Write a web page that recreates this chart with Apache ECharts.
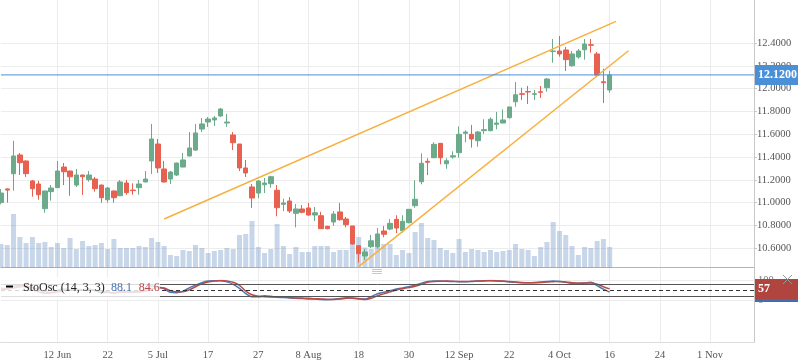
<!DOCTYPE html>
<html><head><meta charset="utf-8">
<script src="https://cdn.jsdelivr.net/npm/echarts@6/dist/echarts.min.js"></script>
<style>html,body{margin:0;padding:0;background:#fff}#c{width:798px;height:363px}</style>
</head><body><div id="c"></div>
<script>
const dates = [
'2017-05-30','2017-05-31','2017-06-01','2017-06-02','2017-06-05','2017-06-06','2017-06-07','2017-06-08','2017-06-09','2017-06-12',
'2017-06-13','2017-06-14','2017-06-15','2017-06-16','2017-06-19','2017-06-20','2017-06-21','2017-06-22','2017-06-23','2017-06-26',
'2017-06-27','2017-06-28','2017-06-29','2017-06-30','2017-07-03','2017-07-05','2017-07-06','2017-07-07','2017-07-10','2017-07-11',
'2017-07-12','2017-07-13','2017-07-14','2017-07-17','2017-07-18','2017-07-19','2017-07-20','2017-07-21','2017-07-24','2017-07-25',
'2017-07-26','2017-07-27','2017-07-28','2017-07-31','2017-08-01','2017-08-02','2017-08-03','2017-08-04','2017-08-07','2017-08-08',
'2017-08-09','2017-08-10','2017-08-11','2017-08-14','2017-08-15','2017-08-16','2017-08-17','2017-08-18','2017-08-21','2017-08-22',
'2017-08-23','2017-08-24','2017-08-25','2017-08-28','2017-08-29','2017-08-30','2017-08-31','2017-09-01','2017-09-05','2017-09-06',
'2017-09-07','2017-09-08','2017-09-11','2017-09-12','2017-09-13','2017-09-14','2017-09-15','2017-09-18','2017-09-19','2017-09-20',
'2017-09-21','2017-09-22','2017-09-25','2017-09-26','2017-09-27','2017-09-28','2017-09-29','2017-10-02','2017-10-03','2017-10-04',
'2017-10-05','2017-10-06','2017-10-09','2017-10-10','2017-10-11','2017-10-12','2017-10-13','2017-10-16','2017-10-17','2017-10-18',
'2017-10-19','2017-10-20','2017-10-21','2017-10-22','2017-10-23','2017-10-24','2017-10-25','2017-10-26','2017-10-27','2017-10-28',
'2017-10-29','2017-10-30','2017-10-31','2017-11-01','2017-11-02','2017-11-03','2017-11-04','2017-11-05','2017-11-06','2017-11-07',
'2017-11-08'];
const opens = [11.000,11.120,11.253,11.418,11.365,11.190,11.163,10.947,11.096,11.131,
11.312,11.277,11.154,11.242,11.201,11.207,11.154,11.025,11.102,11.060,
11.172,11.110,11.131,11.181,11.365,11.514,11.295,11.207,11.242,11.312,
11.409,11.461,11.645,11.707,11.725,11.760,11.698,11.593,11.514,11.304,
11.137,11.084,11.157,11.166,11.108,10.985,11.014,10.906,10.944,10.953,
10.891,10.885,10.792,10.830,10.918,10.856,10.795,10.622,10.532,10.613,
10.613,10.751,10.768,10.853,10.754,10.824,10.973,11.183,11.362,11.394,
11.520,11.341,11.400,11.438,11.608,11.599,11.543,11.631,11.631,11.687,
11.698,11.745,11.885,11.955,11.975,11.950,11.972,12.008,12.325,12.330,
12.339,12.201,12.277,12.341,12.385,12.304,12.060,11.988];
const closes = [11.084,11.110,11.409,11.350,11.254,11.122,11.069,11.102,11.128,11.277,
11.271,11.227,11.242,11.227,11.242,11.122,11.043,11.128,11.043,11.181,
11.087,11.105,11.163,11.207,11.558,11.304,11.181,11.268,11.347,11.374,
11.479,11.611,11.690,11.733,11.742,11.821,11.707,11.525,11.304,11.260,
11.040,11.189,11.172,11.227,10.955,10.997,10.926,10.944,10.915,10.891,
10.911,10.771,10.771,10.900,10.850,10.806,10.637,10.552,10.567,10.665,
10.725,10.722,10.818,10.777,10.836,10.941,11.029,11.345,11.354,11.511,
11.394,11.367,11.411,11.599,11.619,11.558,11.619,11.640,11.731,11.698,
11.725,11.839,11.946,11.950,11.970,11.955,11.967,12.084,12.330,12.304,
12.254,12.304,12.330,12.391,12.380,12.119,12.052,12.120];
const lows = [10.985,11.000,11.104,11.242,11.225,11.052,11.025,10.911,11.017,11.128,
11.154,11.060,11.137,11.067,11.183,11.096,10.999,10.999,10.999,11.058,
11.069,11.069,11.069,11.178,11.251,11.260,11.175,11.163,11.233,11.310,
11.405,11.453,11.619,11.663,11.672,11.751,11.663,11.461,11.277,11.225,
10.953,11.038,11.084,11.131,10.880,10.926,10.909,10.783,10.906,10.885,
10.839,10.771,10.766,10.795,10.841,10.783,10.631,10.473,10.497,10.602,
10.596,10.696,10.757,10.733,10.736,10.818,10.955,11.160,11.242,11.389,
11.336,11.297,11.385,11.394,11.529,11.482,11.490,11.602,11.625,11.643,
11.696,11.736,11.841,11.900,11.865,11.900,11.918,11.973,12.227,12.280,
12.154,12.192,12.262,12.254,12.315,12.111,11.874,11.964];
const highs = [11.119,11.125,11.543,11.435,11.370,11.198,11.190,11.105,11.154,11.365,
11.347,11.280,11.295,11.245,11.277,11.225,11.157,11.137,11.105,11.198,
11.198,11.169,11.198,11.277,11.690,11.558,11.365,11.277,11.350,11.435,
11.619,11.690,11.742,11.751,11.760,11.830,11.777,11.619,11.514,11.374,
11.163,11.198,11.216,11.236,11.154,11.034,11.049,10.988,10.979,10.997,
10.961,10.920,10.797,10.926,10.997,10.874,10.795,10.622,10.593,10.716,
10.777,10.795,10.856,10.889,10.889,10.941,11.196,11.432,11.389,11.529,
11.520,11.389,11.450,11.669,11.634,11.681,11.628,11.731,11.748,11.795,
11.818,11.839,12.058,12.008,12.023,11.988,12.023,12.093,12.435,12.461,
12.365,12.330,12.347,12.435,12.435,12.321,12.175,12.154];
const volumes = [235,225,535,305,245,305,245,255,205,245,
195,295,185,265,215,225,245,185,285,195,
195,195,215,205,295,255,215,125,115,175,
165,225,195,145,165,175,195,185,325,335,
465,205,145,185,435,215,135,205,155,155,
215,215,215,155,175,175,235,305,200,185,
235,235,235,125,175,145,355,445,295,275,
195,175,145,285,155,185,175,155,175,155,
165,175,235,185,175,115,205,255,455,365,
325,215,125,205,195,265,285,205];
const stochK = [55,58,72,74,66,52,42,35,38,50,56,52,54,52,55,48,38,40,36,44,42,40,45,52,72,68,
58,40,38,46,62,76,88,96,98,98,92,80,60,33,18,18,23,20,15,14,12,10,9,7,
6,4,3,5,9,13,10,7,6,18,33,40,48,56,62,68,76,86,94,96,
96,95,94,93,93,94,96,97,98,97,95,92,90,88,88,89,91,94,96,94,
90,85,83,86,90,73,56,41];
const stochD = [60,57,62,68,70,64,53,43,38,41,48,53,54,53,54,52,47,42,38,40,41,41,42,46,56,64,
62,48,43,43,52,68,82,92,97,99,97,90,75,46,28,20,18,16,16,16,14,12,11,10,
8,7,5,4,6,10,12,9,4,10,23,32,42,52,58,64,70,80,90,94,
95,96,95,94,94,95,96,98,99,98,96,94,91,89,88,88,89,92,93,94,
92,88,86,86,86,80,68,57];
const lastPrice = 12.12;
const trendUpper = [[26, 10.856], [98, 12.590]];
const trendLower = [[57, 10.438], [100, 12.332]];
const stochLevels = [80, 50, 20];
const legendTexts = ['StoOsc (14, 3, 3)', '88.1', '84.6'];
const monthNames = ['Jan','Feb','Mar','Apr','May','Jun','Jul','Aug','Sep','Oct','Nov','Dec'];

const FONT = 'Liberation Serif';
const GRID = '#ececec';
const UP = '#6caa8c', DOWN = '#e8604f';
const PRICE_BLUE = '#4a90d9';
const L = 1, R = 44;

function isTick(i) { return i >= 9 && (i - 9) % 8 === 0; }
function tickText(i) {
  const p = dates[i].split('-');
  const showMonth = i === 9 || dates[i - 8].split('-')[1] !== p[1];
  return showMonth ? (+p[2]) + ' ' + monthNames[+p[1] - 1] : String(+p[2]);
}
const candleData = opens.map((o, i) => [o, closes[i], lows[i], highs[i]]);
const priceLineData = [[0, lastPrice], [dates.length - 1, lastPrice]];
function hiddenX(gi) { return {type: 'category', gridIndex: gi, data: dates, boundaryGap: false, show: false}; }
function badge(bg, val, digits) {
  return {
    show: true, position: 'end', distance: 1,
    formatter: () => val.toFixed(digits),
    backgroundColor: bg, color: '#fff', fontSize: 12, fontFamily: FONT, fontWeight: 'bold',
    padding: [4, 3], width: 37, align: 'left', opacity: 1
  };
}
const HIDDEN_LINE = {color: 'rgba(0,0,0,0)', width: 1, type: 'solid'};

const chart = echarts.init(document.getElementById('c'), null, {renderer: 'canvas'});
chart.setOption({
  animation: false,
  textStyle: {fontFamily: FONT},
  grid: [
    {left: L, right: R, top: 0, height: 342},
    {left: L, right: R, top: 43, height: 205.2},
    {left: L, right: R, top: 160.5, height: 107},
    {left: L, right: R, top: 280.3, height: 20},
    {left: L, right: R, top: 275, height: 67}
  ],
  xAxis: [
    {type: 'category', gridIndex: 0, data: dates, boundaryGap: false,
     axisLine: {show: true, lineStyle: {color: '#c8c8c8'}}, axisTick: {show: false},
     axisLabel: {interval: (i) => isTick(i), formatter: (v, i) => tickText(i), color: '#555', fontSize: 10.5, margin: 8},
     splitLine: {show: true, interval: (i) => isTick(i), lineStyle: {color: GRID}}},
    hiddenX(1),
    {type: 'category', gridIndex: 2, data: dates, boundaryGap: false,
     axisLine: {show: true, lineStyle: {color: '#b4b4b4'}}, axisTick: {show: false}, axisLabel: {show: false}, splitLine: {show: false}},
    hiddenX(3),
    {type: 'category', gridIndex: 4, data: dates, boundaryGap: false, position: 'top',
     axisLine: {show: true, lineStyle: {color: '#dcdcdc'}}, axisTick: {show: false}, axisLabel: {show: false}, splitLine: {show: false}}
  ],
  yAxis: [
    {type: 'value', gridIndex: 0, min: 0, max: 1, position: 'right',
     axisLine: {show: true, lineStyle: {color: '#c8c8c8'}}, axisTick: {show: false}, axisLabel: {show: false}, splitLine: {show: false}},
    {type: 'value', gridIndex: 1, min: 10.6, max: 12.4, interval: 0.2, position: 'right',
     axisLine: {show: false}, axisTick: {show: true, length: 3, lineStyle: {color: '#c8c8c8'}},
     axisLabel: {color: '#555', fontSize: 10.5, margin: 3, formatter: (v) => v.toFixed(4)},
     splitLine: {show: true, lineStyle: {color: GRID}}},
    {type: 'value', gridIndex: 2, min: 0, max: 1070, show: false},
    {type: 'value', gridIndex: 3, min: 0, max: 100, interval: 100, position: 'right',
     axisLine: {show: false}, axisTick: {show: false},
     axisLabel: {color: '#777', fontSize: 10.5, margin: 4},
     splitLine: {show: true, lineStyle: {color: GRID}}},
    {type: 'value', gridIndex: 4, show: false}
  ],
  series: [
    {type: 'candlestick', xAxisIndex: 1, yAxisIndex: 1, data: candleData, barWidth: 5, clip: false,
     itemStyle: {color: UP, color0: DOWN, borderColor: UP, borderColor0: DOWN, borderWidth: 1}},
    {type: 'bar', xAxisIndex: 2, yAxisIndex: 2, data: volumes, barWidth: 5, silent: true,
     itemStyle: {color: 'rgba(70,120,180,0.3)'}},
    {type: 'line', xAxisIndex: 1, yAxisIndex: 1, data: trendUpper, symbol: 'none', clip: false, silent: true,
     lineStyle: {color: '#f7b040', width: 1.5}},
    {type: 'line', xAxisIndex: 1, yAxisIndex: 1, data: trendLower, symbol: 'none', clip: false, silent: true,
     lineStyle: {color: '#f7b040', width: 1.5}},
    {type: 'line', xAxisIndex: 1, yAxisIndex: 1, data: priceLineData, symbol: 'none', silent: true, z: 5,
     color: PRICE_BLUE, itemStyle: {color: PRICE_BLUE},
     lineStyle: {color: PRICE_BLUE, width: 1, type: 'solid'},
     endLabel: Object.assign(badge(PRICE_BLUE, lastPrice, 4), {valueAnimation: false})},
    {type: 'line', xAxisIndex: 3, yAxisIndex: 3, data: stochK, symbol: 'none', smooth: 0.3, silent: true, z: 3,
     lineStyle: {color: '#4a78b8', width: 1.5},
     markLine: {symbol: 'none', silent: true, animation: false, label: {show: false},
       data: [
         {yAxis: stochLevels[0], lineStyle: {color: '#555', type: 'solid', width: 1}},
         {yAxis: stochLevels[1], lineStyle: {color: '#333', type: [4, 3], width: 1}},
         {yAxis: stochLevels[2], lineStyle: {color: '#555', type: 'solid', width: 1}},
         {yAxis: stochK[stochK.length - 1], lineStyle: HIDDEN_LINE, label: badge('#3f6fb0', stochK[stochK.length - 1], 0)}
       ]}},
    {type: 'line', xAxisIndex: 3, yAxisIndex: 3, data: stochD, symbol: 'none', smooth: 0.3, silent: true, z: 4,
     lineStyle: {color: '#b84a4a', width: 1.5},
     markLine: {symbol: 'none', silent: true, animation: false,
       data: [{yAxis: stochD[stochD.length - 1], lineStyle: HIDDEN_LINE, label: badge('#b0443f', stochD[stochD.length - 1], 0)}]}}
  ],
  graphic: [
    {type: 'rect', z: 100, shape: {x: 0, y: 277, width: 160, height: 23}, style: {fill: 'rgba(255,255,255,0.8)'}},
    {type: 'rect', z: 101, shape: {x: 6, y: 285.5, width: 7, height: 2}, style: {fill: '#000'}},
    {type: 'text', z: 101, x: 23, y: 288, style: {text: legendTexts[0], fill: '#222', font: '12px "Liberation Serif"', verticalAlign: 'middle', textVerticalAlign: 'middle'}},
    {type: 'text', z: 101, x: 111, y: 288, style: {text: legendTexts[1], fill: '#4672b4', font: '12px "Liberation Serif"', verticalAlign: 'middle', textVerticalAlign: 'middle'}},
    {type: 'text', z: 101, x: 138.7, y: 288, style: {text: legendTexts[2], fill: '#c04646', font: '12px "Liberation Serif"', verticalAlign: 'middle', textVerticalAlign: 'middle'}},
    {type: 'line', z: 101, shape: {x1: 372, y1: 269.5, x2: 382, y2: 269.5}, style: {stroke: '#c8c8c8', lineWidth: 1}},
    {type: 'line', z: 101, shape: {x1: 372, y1: 271.5, x2: 382, y2: 271.5}, style: {stroke: '#c8c8c8', lineWidth: 1}},
    {type: 'line', z: 101, shape: {x1: 372, y1: 273.5, x2: 382, y2: 273.5}, style: {stroke: '#c8c8c8', lineWidth: 1}},
    {type: 'line', z: 101, shape: {x1: 783, y1: 275, x2: 792, y2: 284}, style: {stroke: '#999', lineWidth: 1}},
    {type: 'line', z: 101, shape: {x1: 792, y1: 275, x2: 783, y2: 284}, style: {stroke: '#999', lineWidth: 1}}
  ]
});
</script>
</body></html>
